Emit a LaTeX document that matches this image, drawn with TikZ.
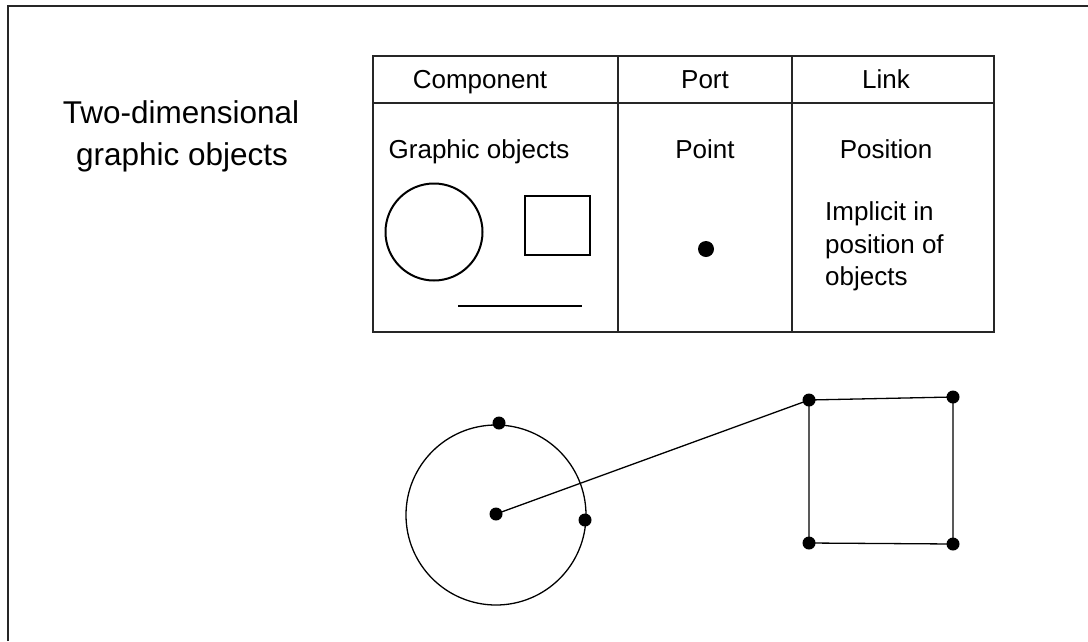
\documentclass[tikz,border=0pt]{standalone}
\usepackage{fontspec}
\setmainfont{Liberation Sans}
\begin{document}
\begin{tikzpicture}[x=1pt,y=-1pt,
  tline/.style={line width=1.4pt,black!85},
  thin/.style={line width=1.3pt,black},
  dotbig/.style={circle,fill=black,inner sep=0pt,minimum size=16pt},
  dotsm/.style={circle,fill=black,inner sep=0pt,minimum size=13pt},
  cell/.style={inner sep=0pt,anchor=base,font=\fontsize{26}{31.5}\selectfont},
  celll/.style={inner sep=0pt,anchor=base west,font=\fontsize{26}{31.5}\selectfont},
  big/.style={inner sep=0pt,anchor=base,font=\fontsize{31.5}{42}\selectfont}]
\useasboundingbox (0,0) rectangle (1088,641);
% frame
\draw[line width=1.6pt,black!85] (8,641) -- (8,6) -- (1088,6);
% left title
\node[big] (t1) at (181,123) {Two-dimensional};
\node[big] (t2) at (182,165) {graphic objects};
% table
\draw[tline] (373,56) rectangle (994,332);
\draw[tline] (373,103) -- (994,103);
\draw[tline] (618,56) -- (618,332);
\draw[tline] (792,56) -- (792,332);
\node[cell] (hc) at (480,88) {Component};
\node[cell] (hp) at (705,88) {Port};
\node[cell] (hl) at (886,88) {Link};
\node[cell] (go) at (479,158) {Graphic objects};
\node[cell] (pt) at (705,158) {Point};
\node[cell] (pos) at (886,158) {Position};
\node[celll] (im1) at (825,220) {Implicit in};
\node[celll] (im2) at (825,253) {position of};
\node[celll] (im3) at (825,285) {objects};
% component shapes
\draw[line width=2pt] (434,232) circle (48.5);
\draw[thin,line width=1.2pt] (525,196) rectangle (590,255);
\draw[thin,line width=1.2pt] (458,306) -- (582,306);
\node[dotbig] (pdot) at (706,249) {};
% lower diagram
\draw[thin] (496,515) circle (90);
\node[dotsm] (ctop) at (499,423) {};
\node[dotsm] (cright) at (585,520) {};
\node[dotsm] (cc) at (496,514) {};
\node[dotsm] (s1) at (809,400) {};
\node[dotsm] (s2) at (953,397) {};
\node[dotsm] (s3) at (953,544) {};
\node[dotsm] (s4) at (809,543) {};
\draw[thin] (cc.center) -- (s1.center);
\draw[thin] (s1.center) -- (s2.center) -- (s3.center) -- (s4.center) -- cycle;
\end{tikzpicture}
\end{document}
